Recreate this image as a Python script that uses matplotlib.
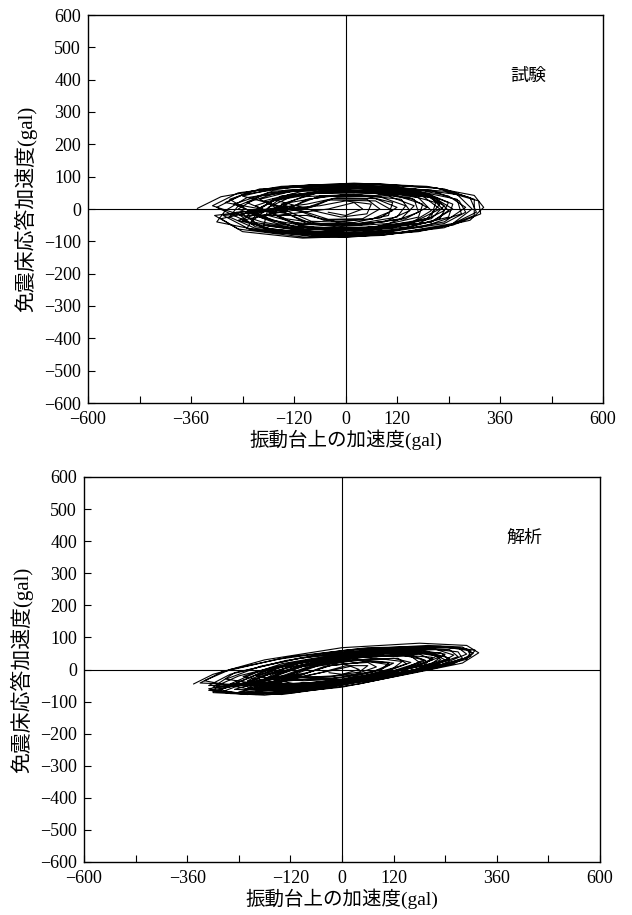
import matplotlib
matplotlib.use("Agg")
import matplotlib.pyplot as plt

plt.rcParams['font.family'] = ['Liberation Serif', 'Noto Sans CJK JP', 'DejaVu Sans']
plt.rcParams['axes.unicode_minus'] = True

# ---- data ----
x_ticks = [-600, -480, -360, -240, -120, 0, 120, 240, 360, 480, 600]
x_tick_labels = ['\u2212600', '', '\u2212360', '', '\u2212120', '0', '120', '', '360', '', '600']
y_ticks = [-600, -500, -400, -300, -200, -100, 0, 100, 200, 300, 400, 500, 600]
y_tick_labels = ['\u2212600', '\u2212500', '\u2212400', '\u2212300', '\u2212200', '\u2212100',
                 '0', '100', '200', '300', '400', '500', '600']

panel_titles = ['試験', '解析']
x_label = '振動台上の加速度(gal)'
y_label = '免震床応答加速度(gal)'

# test (試験) trajectory: table acceleration x, floor response y
test_x = [-345, -290, -150, 20, 190, 300, 322, 290, 170, 0, -180, -300,
          -280, -230, -100, 40, 200, 265, 280, 230, 80, -60, -210, -270,
          -250, -180, -60, 90, 210, 240, 200, 60, -90, -220,
          -300, -240, -120, 50, 230, 310, 315, 250, 100, -80, -230,
          -200, -150, -30, 110, 180, 170, 70, -60, -170,
          -260, -170, -20, 150, 260, 270, 180, 20, -150, -250,
          -160, -100, 20, 130, 150, 90, -30, -140,
          -230, -140, 10, 170, 240, 220, 120, -40, -190, -240,
          -120, -60, 40, 110, 100, 20, -80,
          -190, -100, 60, 200, 250, 200, 60, -110, -200,
          -270, -200, -40, 120, 260, 295, 250, 130, -50, -220, -285,
          -80, -30, 50, 80, 40, -40,
          -150, -70, 60, 160, 170, 100, -20, -130,
          -210, -130, 30, 180, 220, 160, 30, -120, -200,
          -100, -40, 70, 110, 60, -50, -100,
          -240, -160, 0, 160, 240, 280, 230, 100, -70, -210, -255,
          -60, 0, 60, 50, -10, -60,
          -170, -90, 50, 150, 190, 140, 20, -100, -180,
          -130, -40, 80, 140, 120, 30, -80, -135,
          -280, -220, -80, 80, 230, 300, 300, 230, 80, -100, -240, -290,
          -220, -160, -50, 70, 190, 230, 200, 90, -60, -190,
          -180, -120, 0, 130, 210, 200, 110, -30, -160,
          -250, -200, -90, 60, 190, 250, 240, 150, 0, -160, -240,
          -140, -90, 0, 100, 160, 130, 30, -90,
          -200, -110, 40, 180, 220, 190, 60, -90, -195,
          -310, -250, -130, 30, 210, 290, 305, 240, 90, -90, -250, -305,
          -90, -20, 70, 120, 80, -20, -90,
          -230, -170, -60, 80, 200, 230, 170, 40, -110, -220,
          -150, -60, 70, 170, 200, 150, 30, -100, -160,
          -40, 20, 40, 0, -40]
test_y = [2, 38, 70, 80, 70, 42, 5, -35, -70, -88, -72, -40,
          -5, 35, 62, 70, 58, 25, -10, -45, -75, -82, -60, -25,
          10, 50, 60, 55, 35, -5, -40, -65, -70, -45,
          5, 45, 68, 72, 55, 25, -15, -50, -78, -85, -60,
          0, 40, 55, 45, 15, -25, -55, -60, -35,
          15, 55, 65, 60, 30, -15, -55, -75, -70, -35,
          5, 38, 45, 30, -5, -40, -50, -30,
          20, 58, 68, 55, 20, -30, -65, -78, -60, -15,
          10, 40, 42, 20, -20, -42, -38,
          25, 55, 58, 40, 0, -40, -62, -58, -25,
          30, 62, 72, 68, 45, 0, -45, -72, -80, -65, -20,
          5, 32, 30, 0, -30, -32,
          15, 48, 50, 30, -10, -45, -55, -40,
          10, 45, 55, 40, 0, -40, -60, -55, -20,
          0, 28, 25, -5, -32, -35, -10,
          40, 65, 70, 62, 40, 5, -40, -70, -78, -55, -10,
          10, 25, 15, -15, -25, -10,
          30, 50, 52, 35, 5, -30, -50, -48, -20,
          20, 40, 38, 10, -25, -45, -45, -15,
          20, 55, 75, 78, 62, 30, -20, -58, -82, -90, -70, -30,
          -10, 30, 55, 58, 45, 10, -30, -60, -72, -50,
          5, 42, 58, 50, 20, -25, -58, -68, -45,
          0, 40, 60, 62, 48, 15, -25, -55, -72, -68, -35,
          -5, 30, 45, 40, 10, -30, -50, -45,
          30, 60, 65, 50, 15, -30, -60, -65, -40,
          10, 50, 70, 76, 66, 35, -10, -52, -80, -88, -62, -20,
          15, 35, 32, 5, -28, -40, -20,
          -20, 25, 50, 55, 35, -5, -45, -65, -62, -40,
          35, 55, 55, 35, -5, -45, -60, -55, -20,
          0, 20, 0, -20, -10]

# analysis (解析) trajectory
calc_x = [-345, -300, -180, 0, 180, 290, 318, 280, 170, 0, -180, -300,
          -290, -240, -120, 40, 200, 270, 280, 220, 80, -80, -230, -285,
          -240, -170, -40, 110, 230, 250, 180, 40, -110, -220,
          -320, -260, -120, 60, 230, 300, 290, 200, 40, -140, -280,
          -200, -130, 0, 140, 190, 140, 10, -120, -195,
          -270, -190, -50, 120, 250, 270, 200, 60, -110, -250,
          -150, -80, 30, 130, 150, 90, -20, -130,
          -230, -140, 10, 170, 240, 210, 100, -50, -200, -240,
          -110, -50, 50, 110, 90, 0, -90,
          -190, -100, 50, 200, 250, 190, 40, -120, -195,
          -300, -250, -100, 80, 250, 310, 295, 210, 60, -110, -260, -310,
          -80, -20, 60, 80, 30, -50,
          -160, -80, 50, 160, 180, 110, -10, -140,
          -220, -140, 20, 180, 230, 170, 30, -120, -210,
          -100, -40, 60, 110, 70, -30, -95,
          -260, -180, -20, 150, 270, 290, 230, 80, -90, -240,
          -50, 10, 60, 40, -20,
          -175, -90, 50, 160, 195, 140, 20, -110, -170,
          -130, -50, 80, 140, 120, 30, -80,
          -310, -260, -130, 30, 200, 290, 300, 240, 100, -70, -220, -300,
          -220, -160, -40, 100, 210, 230, 170, 40, -100, -200,
          -180, -110, 10, 140, 210, 190, 90, -40, -160,
          -260, -200, -80, 70, 220, 260, 220, 100, -60, -200,
          -140, -80, 20, 120, 160, 110, 0, -110,
          -200, -120, 20, 160, 220, 180, 60, -90, -190,
          -330, -280, -150, 20, 200, 280, 305, 260, 130, -40, -200, -310,
          -90, -30, 60, 120, 90, 0, -80,
          -240, -170, -50, 90, 210, 240, 180, 50, -90, -225,
          -160, -70, 60, 180, 210, 150, 30, -100, -165,
          -30, 20, 40, 0, -30]
calc_y = [-45, -15, 30, 68, 82, 75, 52, 20, -10, -55, -80, -72,
          -50, -20, 20, 55, 65, 55, 35, 5, -30, -65, -75, -65,
          -40, 0, 35, 55, 52, 30, 0, -38, -62, -60,
          -35, 0, 40, 68, 72, 58, 32, 0, -45, -78, -70,
          -30, 5, 38, 45, 30, 0, -35, -55, -45,
          -30, 10, 48, 65, 62, 40, 8, -32, -68, -62,
          -25, 8, 30, 35, 18, -10, -38, -45,
          -22, 18, 52, 62, 48, 20, -15, -55, -62, -45,
          -15, 15, 30, 22, -2, -30, -35,
          -25, 20, 50, 55, 35, 5, -35, -60, -48,
          -55, -10, 35, 62, 70, 60, 38, 8, -35, -72, -75, -60,
          -10, 15, 22, 8, -15, -25,
          -20, 15, 40, 42, 22, -8, -40, -50,
          -35, 10, 45, 55, 40, 10, -30, -58, -55,
          -20, 10, 25, 15, -8, -30, -30,
          -50, -5, 42, 65, 68, 48, 15, -25, -62, -70,
          -10, 12, 12, -8, -20,
          -30, 10, 38, 45, 28, 0, -35, -52, -42,
          -20, 18, 35, 25, 5, -28, -42,
          -50, -15, 28, 60, 72, 65, 42, 12, -25, -62, -78, -68,
          -40, -5, 30, 50, 50, 30, 0, -32, -58, -55,
          -30, 5, 35, 45, 38, 12, -15, -45, -52,
          -45, -10, 30, 55, 62, 45, 15, -20, -55, -68,
          -25, 5, 28, 35, 22, -3, -32, -45,
          -20, 18, 45, 55, 42, 12, -25, -55, -50,
          -42, -8, 32, 62, 75, 70, 50, 18, -15, -55, -78, -65,
          -15, 12, 25, 20, 0, -25, -30,
          -50, -15, 25, 48, 50, 30, 2, -32, -62, -62,
          -15, 20, 42, 48, 30, 2, -30, -50, -40,
          -5, 10, 0, -15, -10]

series = [(test_x, test_y), (calc_x, calc_y)]

# ---- layout ----
W, H = 632, 915
fig = plt.figure(figsize=(W / 100, H / 100), dpi=100)
boxes = [(88, 15, 603, 403), (84, 477, 600, 862)]

for i, ((xs, ys), (l, t, r, b)) in enumerate(zip(series, boxes)):
    ax = fig.add_axes([l / W, 1 - b / H, (r - l) / W, (b - t) / H])
    ax.set_xlim(-600, 600)
    ax.set_ylim(-600, 600)
    ax.axhline(0, color='black', lw=0.8)
    ax.axvline(0, color='black', lw=0.8)
    ax.plot(xs, ys, color='black', lw=0.8)
    ax.set_xticks(x_ticks)
    ax.set_xticklabels(x_tick_labels, fontsize=13)
    ax.set_yticks(y_ticks)
    ax.set_yticklabels(y_tick_labels, fontsize=13)
    ax.tick_params(direction='in', length=5, width=0.8, top=False, right=False)
    ax.tick_params(axis='x', pad=6)
    ax.tick_params(axis='y', pad=5)
    for s in ax.spines.values():
        s.set_linewidth(1.0)
    ax.set_xlabel(x_label, fontsize=14, labelpad=1)
    ax.set_ylabel(y_label, fontsize=15, labelpad=5)
    ax.text(425, 410, panel_titles[i], fontsize=13, ha='center', va='center',
            family=['Noto Sans CJK JP'])

fig.savefig('out.png', dpi=100)
